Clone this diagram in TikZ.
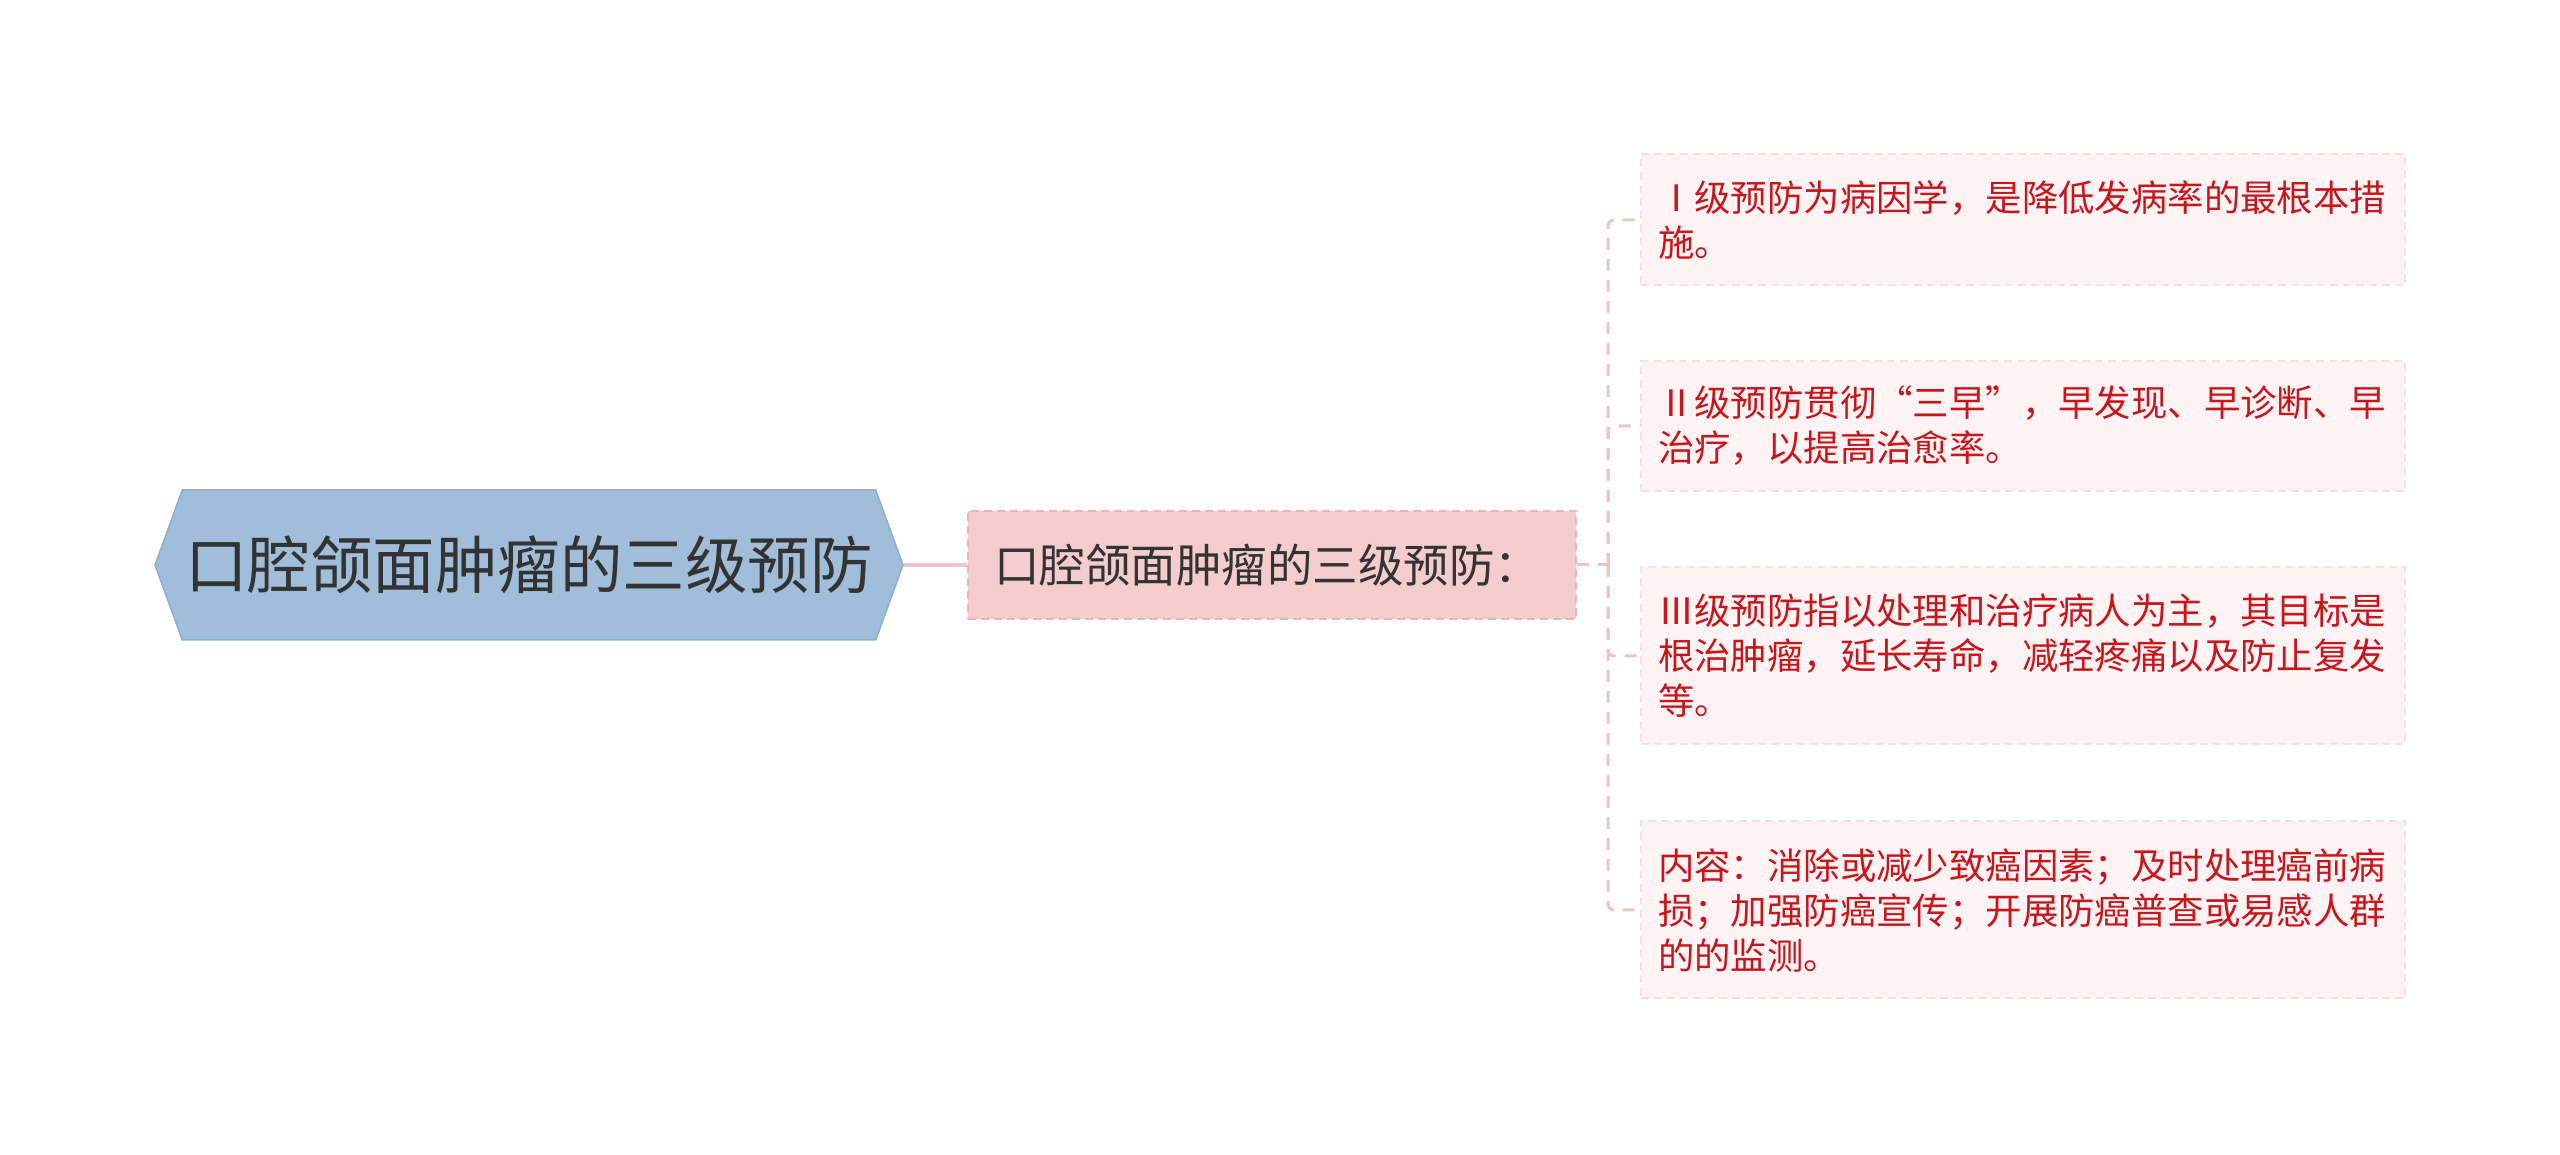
\documentclass[tikz,border=0pt]{standalone}
\usepackage{fontspec}
\setmainfont{Noto Sans CJK SC}
\usetikzlibrary{shapes.symbols}

\definecolor{rootfill}{HTML}{A0BEDA}
\definecolor{rootline}{HTML}{8FAFCF}
\definecolor{topicfill}{HTML}{F5CCCD}
\definecolor{topicline}{HTML}{EDB3B5}
\definecolor{leaffill}{HTML}{FDF3F4}
\definecolor{leafline}{HTML}{F8E0E1}
\definecolor{leaftext}{HTML}{C8161D}
\definecolor{darktext}{HTML}{333333}
\definecolor{linkcolor}{HTML}{F0C4C5}

\begin{document}
\begin{tikzpicture}[x=1pt,y=1pt,
        root/.style={signal,signal to=west and east,signal pointer angle=140,fill=rootfill,draw=rootline,
          line width=1.5pt,minimum width=748pt,minimum height=150pt,inner sep=0pt,text=darktext,
          font=\fontsize{62.5}{70}\selectfont},
        topic/.style={rectangle,fill=topicfill,draw=topicline,dash pattern=on 8pt off 5pt,line width=2pt,
          text width=556pt,inner xsep=26pt,inner ysep=0pt,minimum height=108pt,align=left,text=darktext,
          font=\fontsize{45.5}{52}\selectfont},
        leaf/.style={rectangle,fill=leaffill,draw=leafline,dash pattern=on 8pt off 5pt,line width=2pt,
          text width=730pt,inner xsep=17pt,inner ysep=0pt,minimum width=764pt,align=left,text=leaftext,
          font=\fontsize{36.4}{45}\selectfont},
        link/.style={draw=linkcolor,line width=4pt},
        dlink/.style={link,line width=3pt,dash pattern=on 12pt off 9pt,rounded corners=6pt}]

        \useasboundingbox (0,0) rectangle (2560,1155);

        \node [root]                     (r)  at (529,590)  {口腔颌面肿瘤的三级预防};
        \node [topic]                    (t)  at (1272,590) {口腔颌面肿瘤的三级预防：};
        \coordinate                      (h)  at (1608,590);

        \node [leaf,minimum height=131pt] (l1) at (2023,935) {Ⅰ级预防为病因学，是降低发病率的最根本措\\施。};
        \node [leaf,minimum height=130pt] (l2) at (2023,729) {Ⅱ级预防贯彻“三早”，早发现、早诊断、早\\治疗，以提高治愈率。};
        \node [leaf,minimum height=177pt] (l3) at (2023,499) {Ⅲ级预防指以处理和治疗病人为主，其目标是\\根治肿瘤，延长寿命，减轻疼痛以及防止复发\\等。};
        \node [leaf,minimum height=177pt] (l4) at (2023,245) {内容：消除或减少致癌因素；及时处理癌前病\\损；加强防癌宣传；开展防癌普查或易感人群\\的的监测。};

        \draw [link]  (r.east) -- (t.west);
        \draw [dlink] (t.east) -- (h);
        \foreach \l in {l1,l2,l3,l4}
          \draw [dlink] (h) |- (\l.west);
      \end{tikzpicture}
\end{document}
